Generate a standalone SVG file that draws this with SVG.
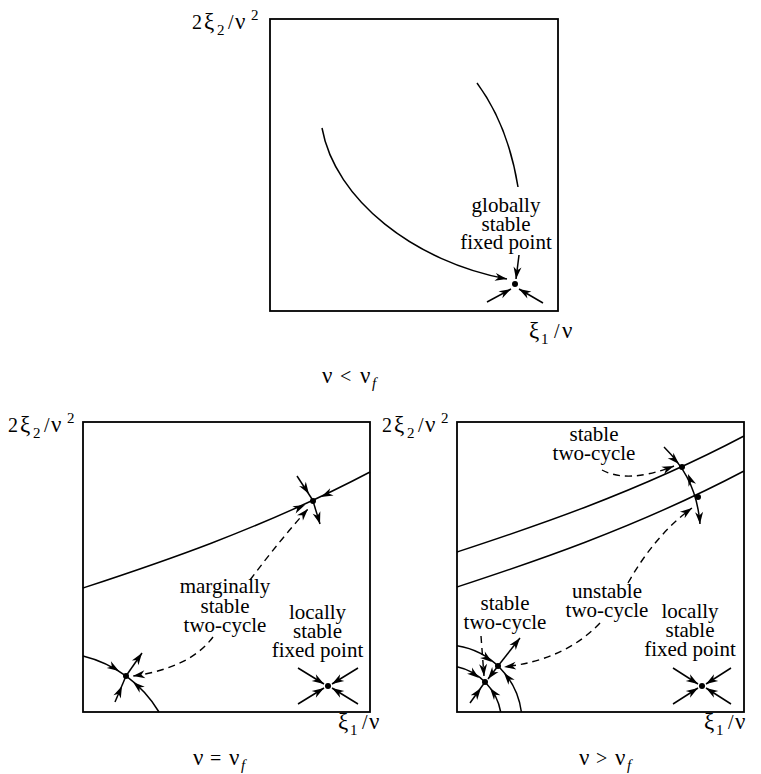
<svg xmlns="http://www.w3.org/2000/svg" xmlns:xlink="http://www.w3.org/1999/xlink" width="761" height="774" viewBox="0 0 761 774">
<style>
.box{fill:none;stroke:#000;stroke-width:1.8}
.c{fill:none;stroke:#000;stroke-width:1.5}
.d{fill:none;stroke:#000;stroke-width:1.4;stroke-dasharray:7 5}
.t{font-family:"Liberation Serif","Times New Roman","DejaVu Serif",serif;font-size:21px;text-anchor:middle;fill:#000}
.m{font-family:"Liberation Serif","Times New Roman","DejaVu Serif",serif;font-size:20px;fill:#000}
.s{font-size:15px}
.g{font-size:23px}
.i{font-style:italic}
.dot{fill:#000}
</style>
<defs>
<path id="ah" d="M0,0 L-12,-4 L-8.5,0 L-12,4 Z" fill="#000"/>
<marker id="m" viewBox="-13 -5 14 10" refX="0" refY="0" markerWidth="14" markerHeight="10" markerUnits="userSpaceOnUse" orient="auto">
<path d="M0,0 L-12,-4 L-8.5,0 L-12,4 Z" fill="#000"/>
</marker>
</defs>

<g id="panel-top">
<rect class="box" x="270" y="19" width="288" height="292"/>
<text class="m" y="29"><tspan x="192">2</tspan><tspan class="g" x="204">ξ</tspan><tspan class="s" x="217" dy="6">2</tspan><tspan x="228" dy="-6">/</tspan><tspan class="g" x="235">ν</tspan><tspan class="s" x="251" dy="-9">2</tspan></text>
<text class="m" y="338"><tspan class="g" x="529">ξ</tspan><tspan class="s" x="541" dy="6">1</tspan><tspan x="554" dy="-6">/</tspan><tspan class="g" x="562">ν</tspan></text>
<text class="m" y="383"><tspan class="g" x="322">ν</tspan><tspan x="340">&lt;</tspan><tspan class="g" x="360">ν</tspan><tspan class="s i" x="372" dy="5">f</tspan></text>
<text class="t" x="506" y="211.5">globally</text>
<text class="t" x="506" y="230.5">stable</text>
<text class="t" x="506" y="248.5">fixed point</text>
<circle class="dot" cx="515" cy="284" r="3"/>
</g>

<g id="panel-left">
<rect class="box" x="83" y="422" width="287" height="290"/>
<text class="m" y="432"><tspan x="8">2</tspan><tspan class="g" x="20">ξ</tspan><tspan class="s" x="33" dy="6">2</tspan><tspan x="44" dy="-6">/</tspan><tspan class="g" x="51">ν</tspan><tspan class="s" x="67" dy="-9">2</tspan></text>
<text class="m" y="729"><tspan class="g" x="338">ξ</tspan><tspan class="s" x="350" dy="6">1</tspan><tspan x="362" dy="-6">/</tspan><tspan class="g" x="369">ν</tspan></text>
<text class="m" y="765"><tspan class="g" x="193">ν</tspan><tspan x="210">=</tspan><tspan class="g" x="229">ν</tspan><tspan class="s i" x="241" dy="5">f</tspan></text>
<text class="t" x="225" y="593">marginally</text>
<text class="t" x="225" y="613">stable</text>
<text class="t" x="225" y="632">two-cycle</text>
<text class="t" x="317.5" y="619">locally</text>
<text class="t" x="317.5" y="638">stable</text>
<text class="t" x="317.5" y="657">fixed point</text>
<circle class="dot" cx="313" cy="501" r="3"/>
<circle class="dot" cx="126" cy="676" r="3"/>
<circle class="dot" cx="328" cy="686" r="3"/>
</g>

<g id="panel-right">
<rect class="box" x="457" y="422" width="287" height="290"/>
<text class="m" y="432"><tspan x="382">2</tspan><tspan class="g" x="394">ξ</tspan><tspan class="s" x="407" dy="6">2</tspan><tspan x="418" dy="-6">/</tspan><tspan class="g" x="425">ν</tspan><tspan class="s" x="441" dy="-9">2</tspan></text>
<text class="m" y="729"><tspan class="g" x="704">ξ</tspan><tspan class="s" x="716" dy="6">1</tspan><tspan x="728" dy="-6">/</tspan><tspan class="g" x="735">ν</tspan></text>
<text class="m" y="765"><tspan class="g" x="579">ν</tspan><tspan x="596">&gt;</tspan><tspan class="g" x="615">ν</tspan><tspan class="s i" x="627" dy="5">f</tspan></text>
<text class="t" x="594" y="441">stable</text>
<text class="t" x="594" y="460">two-cycle</text>
<text class="t" x="607" y="598">unstable</text>
<text class="t" x="607" y="617">two-cycle</text>
<text class="t" x="505" y="610">stable</text>
<text class="t" x="505" y="629">two-cycle</text>
<text class="t" x="690" y="618">locally</text>
<text class="t" x="690" y="637">stable</text>
<text class="t" x="690" y="656">fixed point</text>
<circle class="dot" cx="682" cy="467" r="3"/>
<circle class="dot" cx="698" cy="497" r="3"/>
<circle class="dot" cx="498" cy="666" r="3"/>
<circle class="dot" cx="485" cy="682" r="3"/>
<circle class="dot" cx="702" cy="686" r="3"/>
</g>

<g id="connectors">
<path class="c" d="M322,128 C335,200 415,262 507,279" marker-end="url(#m)"/>
<path class="c" d="M477,83 Q508,125 518,187"/>
<path class="c" d="M519,255 L516,279" marker-end="url(#m)"/>
<path class="c" d="M487,302 L511,289" marker-end="url(#m)"/>
<path class="c" d="M543,303 L519,289" marker-end="url(#m)"/>
<path class="c" d="M83,588 C150,566 260,530 370,472"/>
<path class="c" d="M83,656 A123,123 0 0 1 159,712"/>
<use xlink:href="#ah" transform="translate(321,497) rotate(155)"/>
<use xlink:href="#ah" transform="translate(305,505) rotate(-24)"/>
<path class="c" d="M297,476 L312,499"/>
<use xlink:href="#ah" transform="translate(309,494) rotate(57)"/>
<path class="c" d="M313,501 L320,524" marker-end="url(#m)"/>
<path class="d" d="M250,580 Q280,540 308,509" marker-end="url(#m)"/>
<use xlink:href="#ah" transform="translate(119,671) rotate(32)"/>
<use xlink:href="#ah" transform="translate(133,682) rotate(220)"/>
<path class="c" d="M126,676 L142,653" marker-end="url(#m)"/>
<path class="c" d="M115,702 L126,676"/>
<use xlink:href="#ah" transform="translate(122,686) rotate(-66)"/>
<path class="d" d="M213,637 Q190,668 133,676" marker-end="url(#m)"/>
<path class="c" d="M298,668 L324,684" marker-end="url(#m)"/>
<path class="c" d="M358,668 L332,684" marker-end="url(#m)"/>
<path class="c" d="M298,704 L324,688" marker-end="url(#m)"/>
<path class="c" d="M358,704 L332,688" marker-end="url(#m)"/>
<path class="c" d="M457,552 C524,530 634,494 744,436"/>
<path class="c" d="M457,587 C524,565 634,529 744,471"/>
<path class="c" d="M664,447 C680,463 697,485 700,524" marker-end="url(#m)"/>
<use xlink:href="#ah" transform="translate(679,464) rotate(45)"/>
<use xlink:href="#ah" transform="translate(688,474) rotate(-111)"/>
<path class="d" d="M602,470 Q628,484 674,466" marker-end="url(#m)"/>
<path class="d" d="M628,583 Q655,535 692,508" marker-end="url(#m)"/>
<path class="c" d="M457,645.8 A77.1,77.1 0 0 1 521.4,712"/>
<path class="c" d="M457,666.7 A56.6,56.6 0 0 1 500.7,712"/>
<use xlink:href="#ah" transform="translate(492,662) rotate(37)"/>
<use xlink:href="#ah" transform="translate(504,673) rotate(-129)"/>
<path class="c" d="M498,666 L520,638" marker-end="url(#m)"/>
<path class="d" d="M600,623 Q565,660 504,667" marker-end="url(#m)"/>
<path class="c" d="M498,666 L488,679" marker-end="url(#m)"/>
<use xlink:href="#ah" transform="translate(479,678) rotate(38)"/>
<use xlink:href="#ah" transform="translate(490,688) rotate(-127)"/>
<path class="c" d="M470,703 L485,682"/>
<use xlink:href="#ah" transform="translate(481,688) rotate(-54)"/>
<path class="d" d="M481,636 L484,676" marker-end="url(#m)"/>
<path class="c" d="M673,668 L698,684" marker-end="url(#m)"/>
<path class="c" d="M731,668 L706,684" marker-end="url(#m)"/>
<path class="c" d="M673,704 L698,688" marker-end="url(#m)"/>
<path class="c" d="M731,704 L706,688" marker-end="url(#m)"/>
</g>
</svg>
